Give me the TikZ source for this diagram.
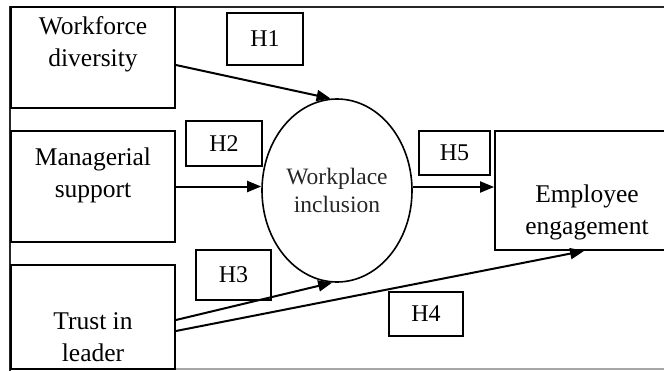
\documentclass[tikz,border=0pt]{standalone}
\usepackage{fontspec}
\setmainfont{Liberation Serif}
\usetikzlibrary{arrows.meta,shapes.geometric}
\begin{document}
\begin{tikzpicture}[x=1pt,y=-1pt,
  box/.style={draw,line width=1.8pt,inner sep=0pt,rectangle},
  hbox/.style={draw,line width=1.8pt,inner sep=0pt,rectangle,font=\fontsize{24}{28}\selectfont},
  txt/.style={align=center,inner sep=0pt,font=\fontsize{25.5}{32}\selectfont},
  arr/.style={line width=2pt,-{Triangle[length=14pt,width=11pt]}}
]
\useasboundingbox (0,0) rectangle (664,370);
\clip (0,0) rectangle (664,370);
% frame
\draw[line width=2.2pt,black!85] (666,7) -- (10,7) -- (10,372);
\draw[line width=1.5pt,gray!70] (10,369) -- (666,369);
% boxes
\node[box,minimum width=164,minimum height=101] (wd) at (93,57.5) {};
\node[box,minimum width=164,minimum height=111] (mg) at (93,186.5) {};
\node[box,minimum width=164,minimum height=104] (tr) at (93,317) {};
\node[box,minimum width=185,minimum height=119] (emp) at (587.5,190.5) {};
\node[ellipse,draw,line width=1.6pt,minimum width=150,minimum height=183,inner sep=0pt,align=center,font=\fontsize{23.5}{28}\selectfont,text=black!85] (incl) at (337,190.5) {Workplace\\inclusion};
% texts
\node[txt] (wdt) at (93,44) {Workforce\\diversity};
\node[txt] (mgt) at (93,175) {Managerial\\support};
\node[txt] (trt) at (93,337.5) {Trust in\\leader};
\node[txt] (empt) at (587,212) {Employee\\engagement};
% hypothesis boxes
\node[hbox,minimum width=76,minimum height=52] (h1) at (265,39) {H1};
\node[hbox,minimum width=76,minimum height=45] (h2) at (224,143.5) {H2};
\node[hbox,minimum width=75,minimum height=50] (h3) at (233.5,275) {H3};
\node[hbox,minimum width=74,minimum height=44] (h4) at (426,314) {H4};
\node[hbox,minimum width=71,minimum height=44] (h5) at (454.5,153) {H5};
% arrows
\draw[arr] ([yshift=-7.5]wd.east) -- (incl.94);
\draw[arr] (mg.east) -- (mg.east -| incl.west);
\draw[arr] ([yshift=3.5]incl.east) -- ([yshift=3.5]emp.west);
\draw[arr] ([yshift=-3]tr.east) -- (incl.267);
\draw[arr] ([yshift=-14]tr.east) -- ([xshift=90]emp.south west);
\end{tikzpicture}
\end{document}
